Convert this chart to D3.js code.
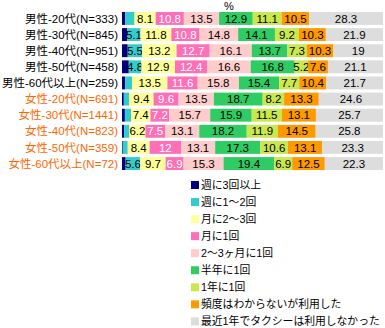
<!DOCTYPE html>
<html>
<head>
<meta charset="utf-8">
<script src="https://cdn.jsdelivr.net/npm/d3@7"></script>
<style>
  body { margin: 0; background: #fff; }
  text { font-family: "Liberation Sans", "Noto Sans CJK JP", sans-serif; }
</style>
</head>
<body>
<svg width="385" height="328"></svg>
<script>
// Taxi usage frequency by gender and age group (stacked 100% bars)

let svg = d3.select('svg');

// Row labels
let groups = ['男性-20代(N=333)', '男性-30代(N=845)', '男性-40代(N=951)', '男性-50代(N=458)', '男性-60代以上(N=259)',
              '女性-20代(N=691)', '女性-30代(N=1441)', '女性-40代(N=823)', '女性-50代(N=359)', '女性-60代以上(N=72)'];
let female = [false, false, false, false, false, true, true, true, true, true];

// Categories (legend order)
let categories = ['週に3回以上', '週に1～2回', '月に2～3回', '月に1回', '2～3ヶ月に1回', '半年に1回', '1年に1回', '頻度はわからないが利用した', '最近1年でタクシーは利用しなかった'];
let colors = ['#000080', '#33CCCC', '#FFFF99', '#FF6FB7', '#FFCCCC', '#2ECC62', '#C8E84E', '#FF9900', '#DDDDDD'];

// Series values, one array per category, in row order
let weekly3 =   [1.2, 2.0, 2.2, 2.6, 1.2, 0.7, 1.1, 0.8, 0.3, 1.4];
let weekly12 =  [3.6, 5.1, 5.5, 4.8, 2.7, 2.0, 2.4, 2.0, 1.9, 5.6];
let monthly23 = [8.1, 11.8, 13.2, 12.9, 13.5, 9.4, 7.4, 6.2, 8.4, 9.7];
let monthly1 =  [10.8, 10.8, 12.7, 12.4, 11.6, 9.6, 7.2, 7.5, 12, 6.9];
let months23 =  [13.5, 14.8, 16.1, 16.6, 15.8, 13.5, 15.7, 13.1, 13.1, 15.3];
let halfYear =  [12.9, 14.1, 13.7, 16.8, 15.4, 18.7, 15.9, 18.2, 17.3, 19.4];
let yearly =    [11.1, 9.2, 7.3, 5.2, 7.7, 8.2, 11.5, 11.9, 10.6, 6.9];
let unknown =   [10.5, 10.3, 10.3, 7.6, 10.4, 13.3, 13.1, 14.5, 13.1, 12.5];
let noUse =     [28.3, 21.9, 19, 21.1, 21.7, 24.6, 25.7, 25.8, 23.3, 22.3];

let series = [weekly3, weekly12, monthly23, monthly1, months23, halfYear, yearly, unknown, noUse];

// Build table for d3.stack
let table = groups.map((g, i) => {
    let row = { group: g };
    categories.forEach((c, j) => { row[c] = series[j][i]; });
    return row;
});

let stacked = d3.stack().keys(categories)(table);

// Scales
let x = d3.scaleLinear().domain([0, 100]).range([122, 383]);
let y = d3.scaleBand().domain(groups).range([12, 170]).paddingInner(0.2);
let color = d3.scaleOrdinal().domain(categories).range(colors);

// Bars
let layers = svg.selectAll('g.layer')
    .data(stacked)
    .enter().append('g')
    .attr('class', 'layer')
    .attr('fill', d => color(d.key));

layers.selectAll('rect')
    .data(d => d)
    .enter().append('rect')
    .attr('x', d => x(d[0]))
    .attr('y', d => y(d.data.group))
    .attr('width', d => x(d[1]) - x(d[0]))
    .attr('height', y.bandwidth());

// Value labels (only where the segment is wide enough)
layers.selectAll('text')
    .data(d => d.map(v => Object.assign(v, { key: d.key })))
    .enter().filter(d => d[1] - d[0] >= 4)
    .append('text')
    .attr('x', d => (x(d[0]) + x(d[1])) / 2)
    .attr('y', d => y(d.data.group) + y.bandwidth() / 2)
    .attr('dy', '0.36em')
    .attr('text-anchor', 'middle')
    .attr('font-size', '11.5px')
    .attr('fill', d => d.key === '月に1回' ? '#fff' : '#000')
    .text(d => d.data[d.key]);

// Row labels
svg.append('g')
    .selectAll('text')
    .data(groups)
    .enter().append('text')
    .attr('x', 118)
    .attr('y', d => y(d) + y.bandwidth() / 2)
    .attr('dy', '0.36em')
    .attr('text-anchor', 'end')
    .attr('font-size', '11.5px')
    .attr('fill', (d, i) => female[i] ? '#FF6600' : '#000')
    .text(d => d);

// Unit label
svg.append('text')
    .attr('x', 229)
    .attr('y', 10)
    .attr('text-anchor', 'middle')
    .attr('font-size', '11px')
    .text('%');

// Legend
let legend = svg.append('g')
    .selectAll('g')
    .data(categories)
    .enter().append('g')
    .attr('transform', (d, i) => 'translate(191,' + (181 + i * 17.05) + ')');

legend.append('rect')
    .attr('width', 8)
    .attr('height', 8)
    .attr('fill', d => color(d));

legend.append('text')
    .attr('x', 10)
    .attr('y', 4)
    .attr('dy', '0.36em')
    .attr('font-size', '10.8px')
    .text(d => d);
</script>
</body>
</html>
